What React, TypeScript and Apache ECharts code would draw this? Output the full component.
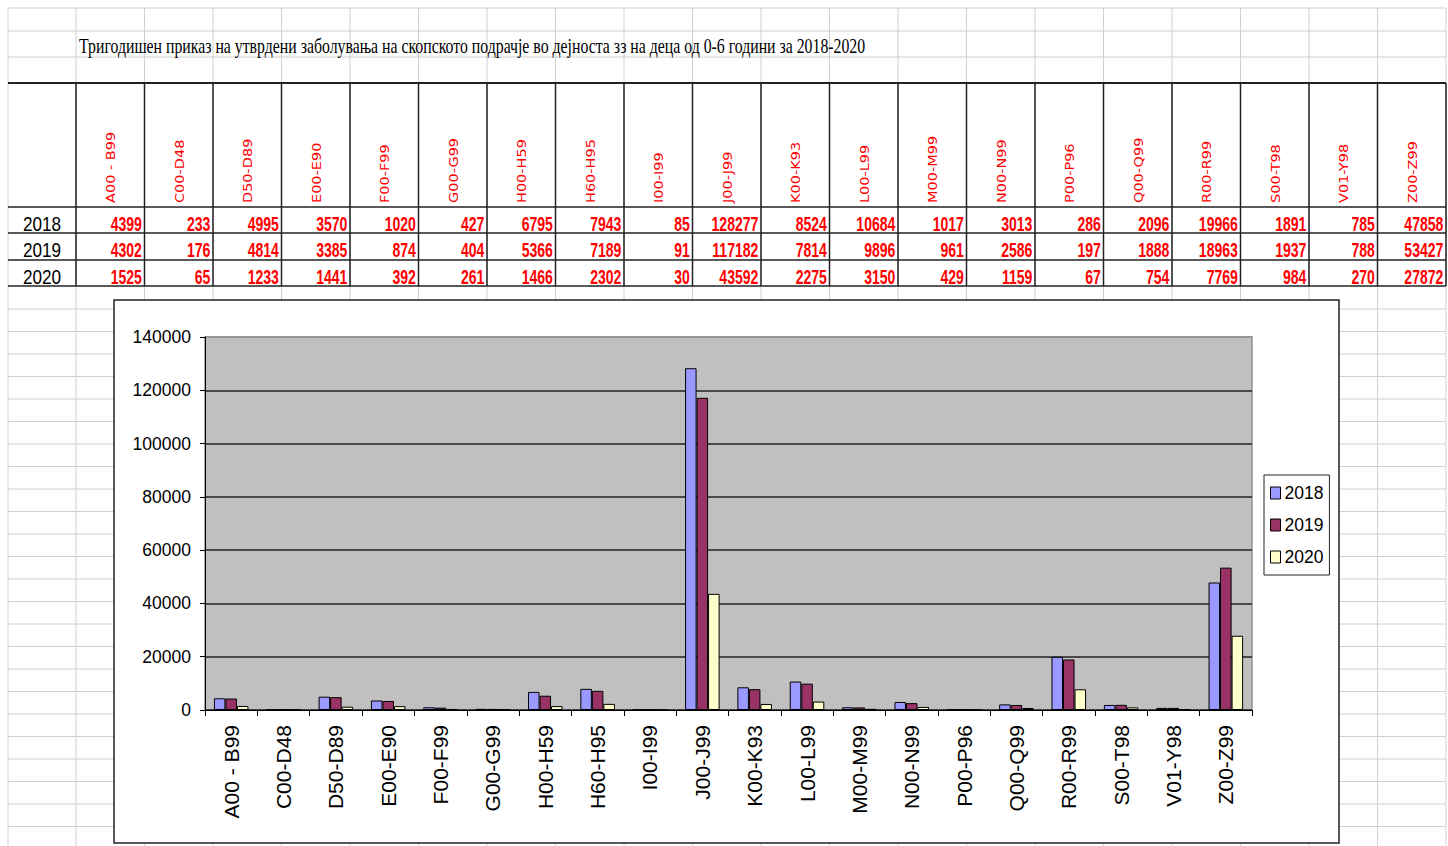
import React, { useEffect, useRef } from "react";
import * as echarts from "echarts";

const titleText =
  "Тригодишен приказ на утврдени заболувања на скопското подрачје во дејноста зз на деца од 0-6 години за 2018-2020";
const categories = [
  "A00 - B99", "C00-D48", "D50-D89", "E00-E90", "F00-F99", "G00-G99", "H00-H59",
  "H60-H95", "I00-I99", "J00-J99", "K00-K93", "L00-L99", "M00-M99", "N00-N99",
  "P00-P96", "Q00-Q99", "R00-R99", "S00-T98", "V01-Y98", "Z00-Z99",
];
const years = ["2018", "2019", "2020"];
const values2018 = [4399, 233, 4995, 3570, 1020, 427, 6795, 7943, 85, 128277, 8524, 10684, 1017, 3013, 286, 2096, 19966, 1891, 785, 47858];
const values2019 = [4302, 176, 4814, 3385, 874, 404, 5366, 7189, 91, 117182, 7814, 9896, 961, 2586, 197, 1888, 18963, 1937, 788, 53427];
const values2020 = [1525, 65, 1233, 1441, 392, 261, 1466, 2302, 30, 43592, 2275, 3150, 429, 1159, 67, 754, 7769, 984, 270, 27872];
const yMin = 0;
const yMax = 140000;
const yInterval = 20000;

const seriesValues = [values2018, values2019, values2020];
const seriesColors = ["#9999FF", "#993366", "#FFFFCC"];

const SANS = '"Liberation Sans", Arial, sans-serif';
const SERIF = '"Liberation Serif", "Times New Roman", serif';

function buildGraphic() {
  const els: any[] = [];
  const left0 = 8;
  const colX0 = 76;
  const colW = 68.5;
  const n = categories.length;
  const rightEdge = colX0 + n * colW;
  const colLeft = (i: number) => colX0 + i * colW;
  const topRows = [8, 31, 57, 83];
  const tableRows = [207, 233, 260, 286];
  const lowerRows: number[] = [];
  for (let y = 309; y < 846; y += 22.5) lowerRows.push(y);
  const gray = "#d0d0d0";
  const line = (x1: number, y1: number, x2: number, y2: number, stroke: string, lw: number, z: number) => ({
    type: "line",
    silent: true,
    z,
    shape: { x1, y1, x2, y2 },
    style: { stroke, lineWidth: lw },
  });
  [...topRows, ...lowerRows].forEach((y) => els.push(line(left0, y, rightEdge, y, gray, 1, -20)));
  const vx = [left0];
  for (let i = 0; i <= n; i++) vx.push(colLeft(i));
  vx.forEach((x) => els.push(line(x, 8, x, 846, gray, 1, -20)));
  els.push(line(left0, 83, rightEdge, 83, "#222", 2, -15));
  tableRows.forEach((y) => els.push(line(left0, y, rightEdge, y, "#222", 1.5, -15)));
  for (let i = 0; i <= n; i++) els.push(line(colLeft(i), 83, colLeft(i), 286, "#222", 1.5, -15));
  els.push({
    type: "text",
    silent: true,
    z: -10,
    x: 79,
    y: 46,
    scaleX: 0.79,
    style: {
      text: titleText,
      fill: "#000",
      fontSize: 20,
      fontFamily: SERIF,
      align: "left",
      verticalAlign: "middle",
      textAlign: "left",
      textVerticalAlign: "middle",
    },
  });
  categories.forEach((c, i) => {
    els.push({
      type: "text",
      silent: true,
      z: -10,
      x: colLeft(i) + colW / 2 + 0.5,
      y: 203,
      rotation: Math.PI / 2,
      scaleY: 0.87,
      style: {
        text: c,
        fill: "#ff0000",
        fontSize: 14.5,
        fontFamily: '"DejaVu Sans", Verdana, sans-serif',
        align: "left",
        verticalAlign: "middle",
        textAlign: "left",
        textVerticalAlign: "middle",
      },
    });
  });
  years.forEach((yr, r) => {
    const rowTop = tableRows[r];
    const ty = rowTop + 17.3;
    els.push({
      type: "text",
      silent: true,
      z: -10,
      x: 42,
      y: ty,
      scaleX: 0.88,
      style: {
        text: yr,
        fill: "#000",
        fontSize: 19.5,
        fontFamily: SANS,
        align: "center",
        verticalAlign: "middle",
        textAlign: "center",
        textVerticalAlign: "middle",
      },
    });
    seriesValues[r].forEach((v, i) => {
      els.push({
        type: "text",
        silent: true,
        z: -10,
        x: colLeft(i) + colW - 2.6,
        y: ty,
        scaleX: 0.72,
        style: {
          text: String(v),
          fill: "#ff0000",
          fontSize: 19.5,
          fontWeight: "bold",
          fontFamily: SANS,
          align: "right",
          verticalAlign: "middle",
          textAlign: "right",
          textVerticalAlign: "middle",
        },
      });
    });
  });
  els.push({
    type: "rect",
    silent: true,
    z: -5,
    shape: { x: 114, y: 300, width: 1225, height: 543 },
    style: { fill: "#ffffff", stroke: "#222", lineWidth: 1.5 },
  });
  return els;
}

export default function App() {
  const ref = useRef<HTMLDivElement>(null);
  useEffect(() => {
    if (!ref.current) return;
    const chart = echarts.init(ref.current, undefined, { renderer: "svg" });
    const splitColors: string[] = [];
    for (let v = yMin; v <= yMax; v += yInterval) splitColors.push(v === yMax ? "#909090" : "#222");
    chart.setOption({
      animation: false,
      backgroundColor: "#ffffff",
      graphic: { elements: buildGraphic() },
      grid: {
        left: 205,
        top: 337,
        right: 196,
        bottom: 136,
        show: true,
        backgroundColor: "#c0c0c0",
        borderColor: "#909090",
        borderWidth: 1.5,
        z: 0,
      },
      legend: {
        orient: "vertical",
        left: 1264,
        top: 475,
        data: years,
        backgroundColor: "#ffffff",
        borderColor: "#222",
        borderWidth: 1,
        padding: [8, 6, 8, 6],
        itemWidth: 10,
        itemHeight: 12,
        itemGap: 12,
        icon: "rect",
        itemStyle: { borderColor: "#000", borderWidth: 1 },
        textStyle: { fontSize: 17.5, color: "#000", fontFamily: SANS, lineHeight: 20, padding: [0, 0, 0, -1] },
      },
      xAxis: {
        type: "category",
        data: categories,
        axisLine: { show: true, lineStyle: { color: "#000", width: 1 } },
        axisTick: { show: true, interval: 0, length: 6, lineStyle: { color: "#000" } },
        axisLabel: {
          interval: 0,
          rotate: 90,
          margin: 15,
          fontSize: 21,
          color: "#000",
          fontFamily: SANS,
        },
        splitLine: { show: false },
      },
      yAxis: {
        type: "value",
        min: yMin,
        max: yMax,
        interval: yInterval,
        axisLine: { show: true, lineStyle: { color: "#000", width: 1 } },
        axisTick: { show: true, length: 5, lineStyle: { color: "#000" } },
        axisLabel: {
          fontSize: 17.5,
          color: "#000",
          margin: 14,
          fontFamily: SANS,
          formatter: (v: number) => String(v),
        },
        splitLine: { show: true, lineStyle: { color: splitColors, width: 1.5 } },
      },
      series: years.map((yr, k) => ({
        name: yr,
        type: "bar",
        data: seriesValues[k],
        barGap: "0%",
        barCategoryGap: "34%",
        itemStyle: { color: seriesColors[k], borderColor: "#000", borderWidth: 1 },
      })),
    });
    return () => chart.dispose();
  }, []);
  return (
    <div
      ref={ref}
      style={{ position: "fixed", left: 0, top: 0, width: 1448, height: 846, background: "#fff" }}
    />
  );
}
